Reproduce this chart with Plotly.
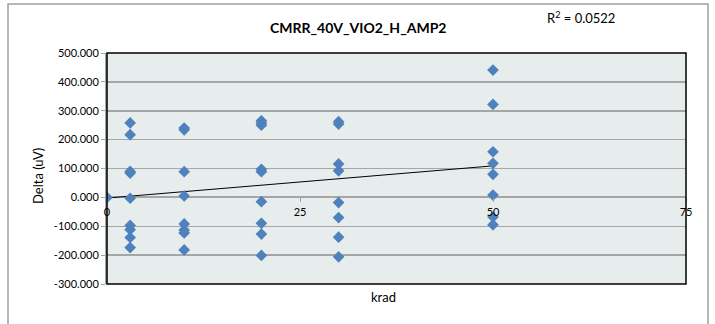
import numpy as np
import plotly.graph_objects as go

# ---- data ----
krad = [0,
        3, 3, 3, 3, 3, 3, 3, 3, 3,
        10, 10, 10, 10, 10, 10, 10, 10,
        20, 20, 20, 20, 20, 20, 20, 20, 20,
        30, 30, 30, 30, 30, 30, 30, 30,
        50, 50, 50, 50, 50, 50, 50, 50]
delta = [0.0,
         258, 217, 90, 84, -3, -97, -112, -139, -174,
         240, 234, 89, 5, -92, -113, -123, -182,
         265, 258, 250, 97, 89, -15, -90, -127, -201,
         262, 254, 116, 92, -18, -70, -138, -206,
         441, 322, 158, 118, 80, 8, -68, -95]

x_ticks = [0, 25, 50, 75]
y_ticks = [-300, -200, -100, 0, 100, 200, 300, 400, 500]
y_ticktext = ["-300.000", "-200.000", "-100.000", "0.000", "100.000",
              "200.000", "300.000", "400.000", "500.000"]
title_text = "CMRR_40V_VIO2_H_AMP2"
r2_text = "R<sup>2</sup> = 0.0522"

# linear trendline from the data
slope, intercept = np.polyfit(krad, delta, 1)
trend_x = [min(krad), max(krad)]
trend_y = [intercept + slope * v for v in trend_x]

FONT = "Lato"
W, H = 715, 324
L, R, T, B = 107, 29, 53, 40
pw, ph = W - L - R, H - T - B

def px(xp):
    return (xp - L) / pw

def py(yp):
    return (H - B - yp) / ph

fig = go.Figure()
fig.add_trace(go.Scatter(
    x=trend_x, y=trend_y, mode="lines",
    line=dict(color="black", width=1), hoverinfo="skip", showlegend=False))
fig.add_trace(go.Scatter(
    x=krad, y=delta, mode="markers",
    marker=dict(symbol="diamond", size=9, color="#4F81BD",
                line=dict(width=0)),
    showlegend=False))

fig.update_layout(
    width=W, height=H,
    margin=dict(l=L, r=R, t=T, b=B),
    paper_bgcolor="white",
    plot_bgcolor="#E7ECEC",
    font=dict(family=FONT, size=11, color="black"),
    xaxis=dict(
        range=[0, 75], tickvals=x_ticks, ticktext=[str(v) for v in x_ticks],
        showgrid=False, zeroline=False, showline=False,
        anchor="free", position=300 / 800,
        ticks="outside", ticklen=4, tickcolor="#A6A6A6", tickwidth=1,
        tickfont=dict(family=FONT, size=11), fixedrange=True,
    ),
    yaxis=dict(
        range=[-300, 500], tickvals=y_ticks, ticktext=y_ticktext,
        showgrid=True, gridcolor="#A6A6A6", gridwidth=1.5,
        zeroline=True, zerolinecolor="#A6A6A6", zerolinewidth=2,
        showline=True, linecolor="#A6A6A6", linewidth=2,
        ticks="outside", ticklen=4, tickcolor="#A6A6A6",
        tickfont=dict(family=FONT, size=11), fixedrange=True,
    ),
    shapes=[
        # plot area border
        dict(type="rect", xref="paper", yref="paper", x0=0, x1=1, y0=0, y1=1,
             line=dict(color="black", width=1.5), layer="above"),
        # outer chart border
        dict(type="rect", xref="paper", yref="paper",
             x0=px(8), x1=px(708), y0=py(340), y1=py(4),
             line=dict(color="#A0A0A0", width=1.5), layer="below"),
    ],
    annotations=[
        dict(text="<b>" + title_text + "</b>", xref="paper", yref="paper",
             x=px(358), y=py(27), showarrow=False,
             font=dict(family=FONT, size=14), xanchor="center", yanchor="middle"),
        dict(text=r2_text, xref="paper", yref="paper",
             x=px(545), y=py(18), showarrow=False,
             font=dict(family=FONT, size=13), xanchor="left", yanchor="middle"),
        dict(text="Delta (uV)", xref="paper", yref="paper",
             x=px(38), y=py(176), showarrow=False, textangle=-90,
             font=dict(family=FONT, size=13), xanchor="center", yanchor="middle"),
        dict(text="krad", xref="paper", yref="paper",
             x=px(383), y=py(297), showarrow=False,
             font=dict(family=FONT, size=13), xanchor="center", yanchor="middle"),
    ],
)

fig.write_html("out.html",
               config={"displayModeBar": False, "staticPlot": True},
               post_script="document.body.style.margin='0px';"
                           "document.body.style.overflow='hidden';")
